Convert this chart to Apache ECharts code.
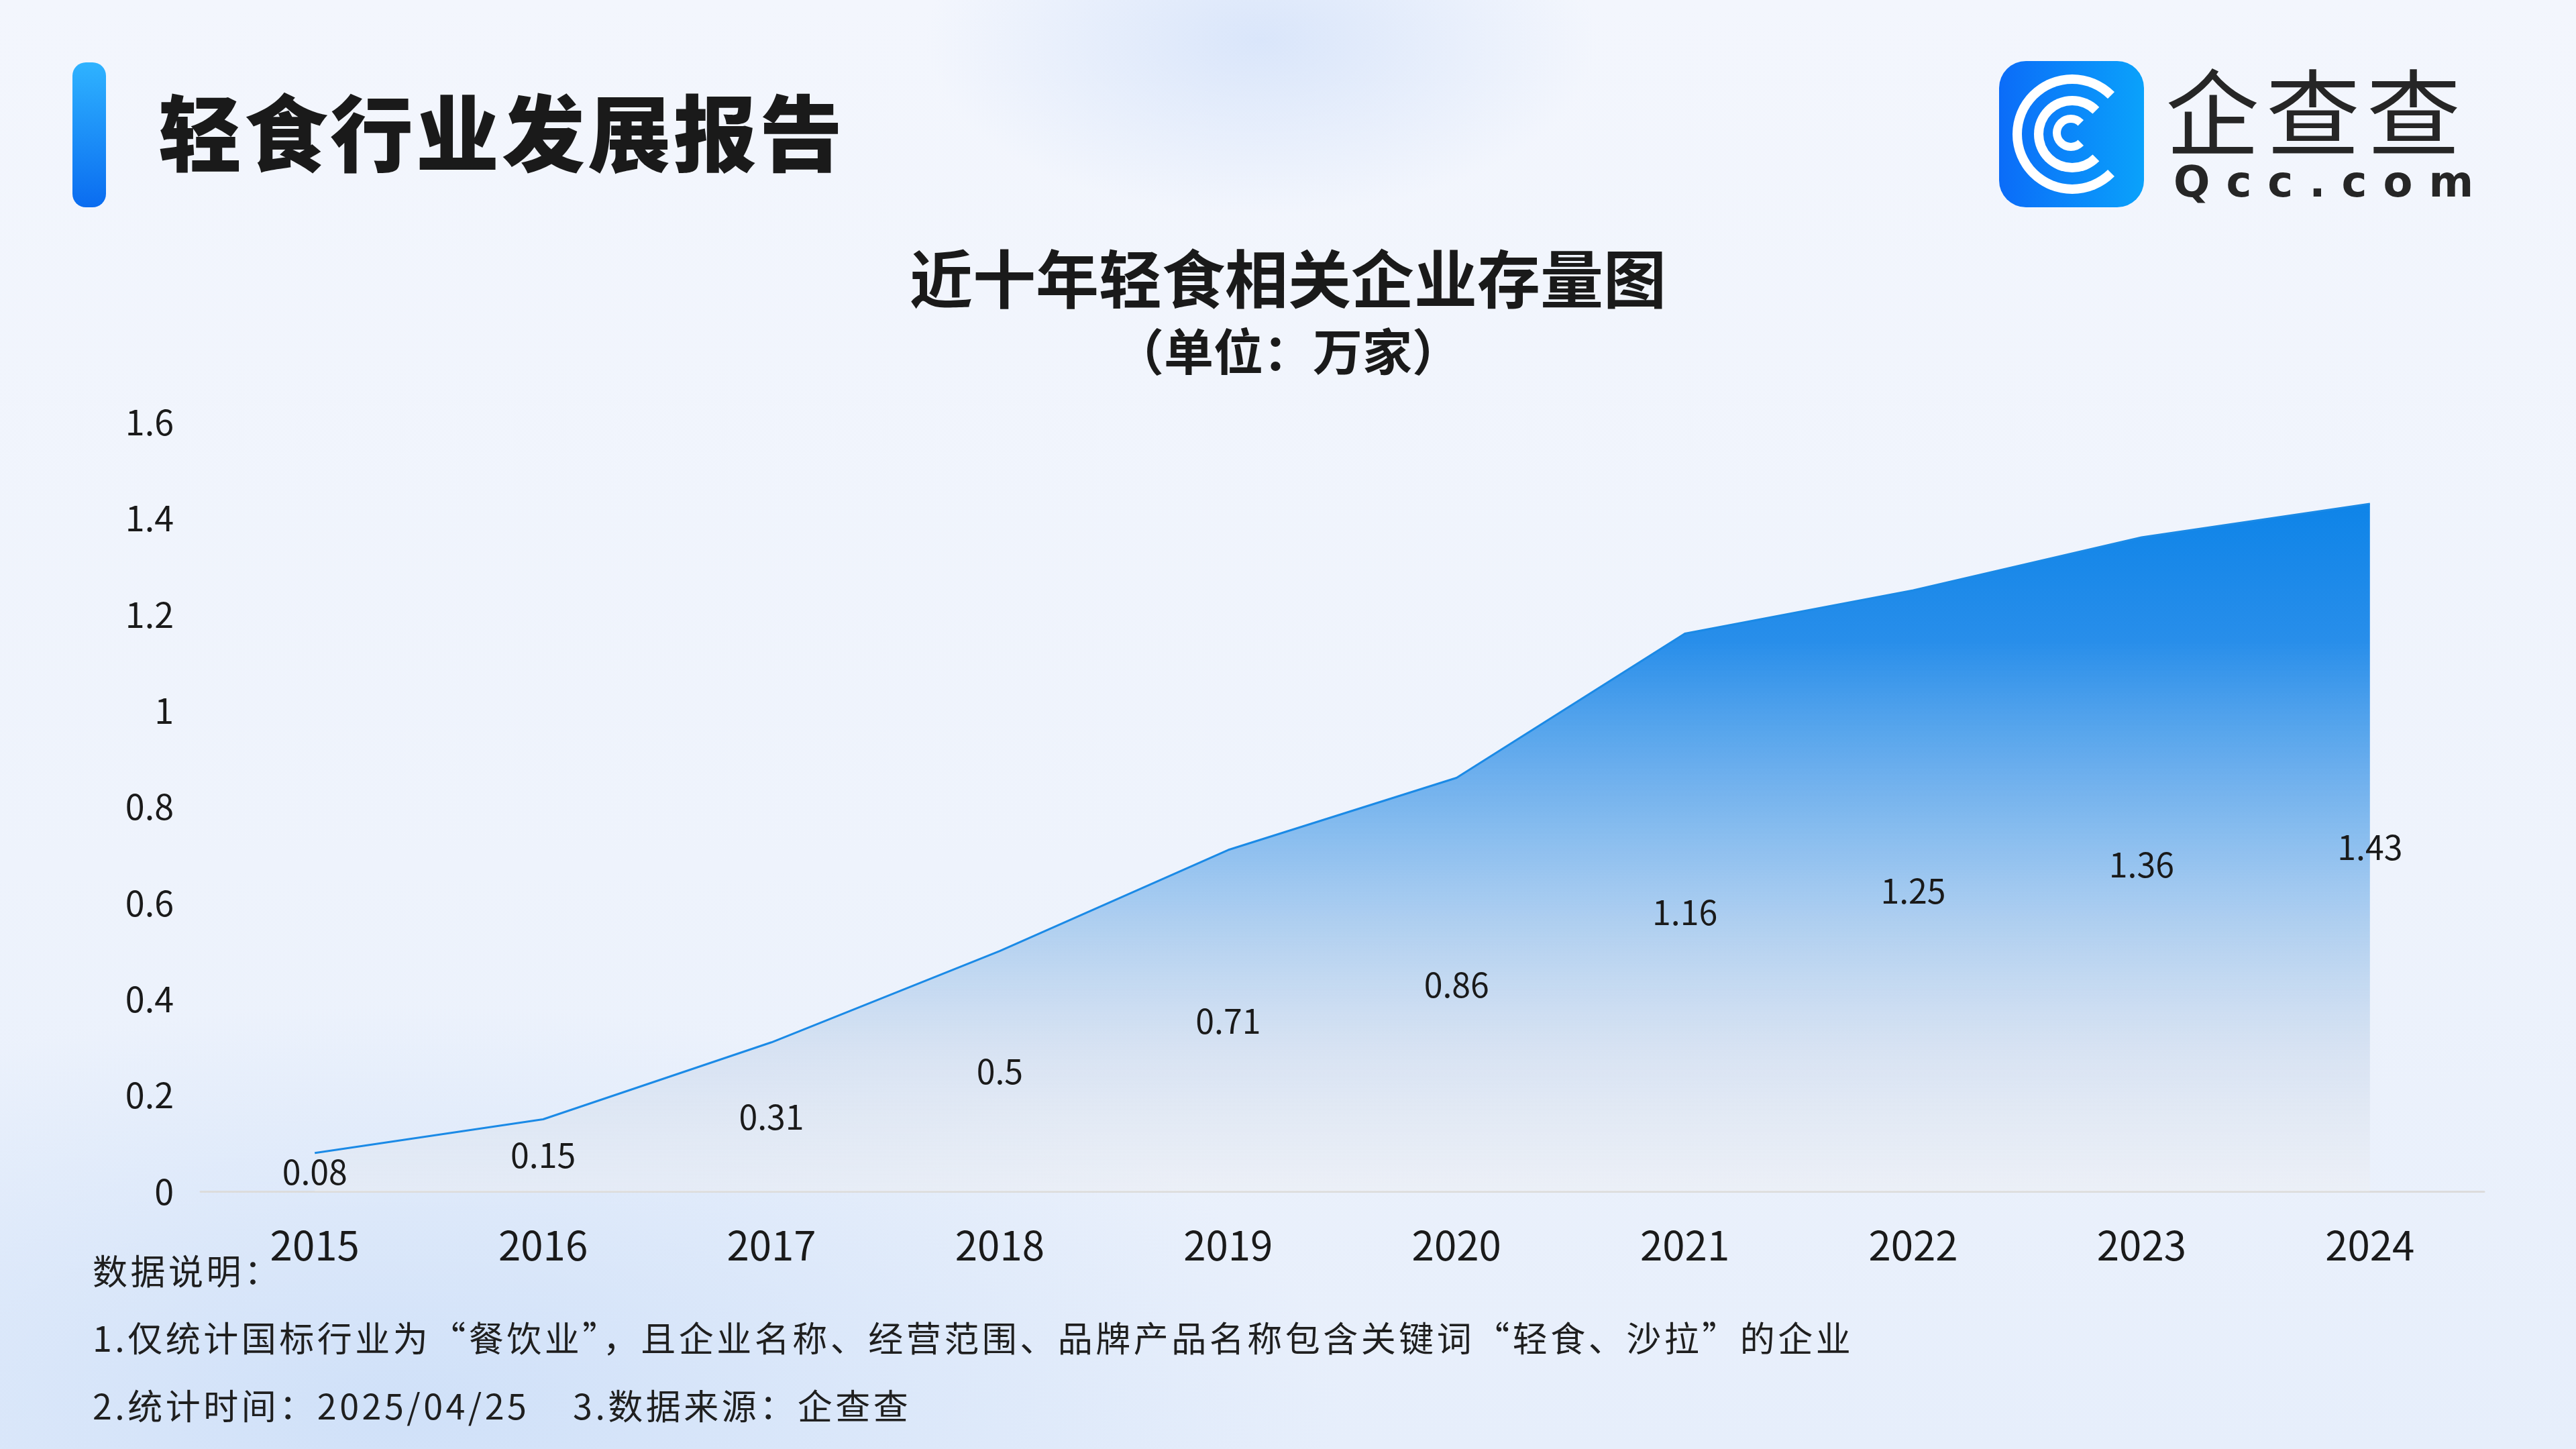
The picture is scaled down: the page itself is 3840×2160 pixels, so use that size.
<!DOCTYPE html>
<html lang="zh">
<head>
<meta charset="UTF-8" />
<title>轻食行业发展报告</title>
<script src="https://cdnjs.cloudflare.com/ajax/libs/echarts/6.0.0/echarts.min.js"></script>
<style>
  html, body { margin: 0; padding: 0; }
  body {
    width: 3840px; height: 2160px; overflow: hidden; position: relative;
    font-family: "Noto Sans CJK SC", sans-serif; color: #1a1a1a;
    background: radial-gradient(ellipse 500px 260px at 1880px 60px, rgba(215,228,250,0.9), rgba(215,228,250,0) 100%),
                radial-gradient(ellipse 1400px 600px at 600px 2100px, rgba(205,223,248,0.9), rgba(205,223,248,0) 100%),
                linear-gradient(180deg, #f3f6fd 0%, #eef3fc 60%, #e6eefb 100%);
  }
  #bar { position: absolute; left: 108px; top: 93px; width: 50px; height: 216px; border-radius: 20px;
         background: linear-gradient(180deg, #2fb3ff, #0a6cf0); }
  #head { position: absolute; left: 236px; top: 112px; font-size: 124px; font-weight: 900; line-height: 160px; letter-spacing: 4px; }
  #logo { position: absolute; left: 2980px; top: 91px; width: 216px; height: 218px; border-radius: 40px;
          background: linear-gradient(90deg, #0b6cf8, #0aa2fb); overflow: hidden; }
  .ring { position: absolute; border-radius: 50%; border: 14px solid #fff; border-right-color: transparent; }
  #logotxt { position: absolute; left: 3228px; top: 80px; font-size: 140px; line-height: 160px; color: #262626; letter-spacing: 10px; font-weight: 400; }
  #logosub { position: absolute; left: 3240px; top: 236px; font-size: 64px; line-height: 70px; color: #262626; letter-spacing: 24px; font-weight: bold; font-family: "DejaVu Sans", sans-serif; }
  #chart { position: absolute; left: 0; top: 0; width: 3840px; height: 2160px; }
  .note { position: absolute; left: 138px; font-size: 52px; line-height: 60px; color: #1f1f1f; letter-spacing: 4.5px; }
</style>
</head>
<body>
  <div id="bar"></div>
  <div id="head">轻食行业发展报告</div>
  <div id="logo">
    <div class="ring" style="left:20px;top:20px;width:150px;height:150px;"></div>
    <div class="ring" style="left:52px;top:52px;width:86px;height:86px;"></div>
    <div class="ring" style="left:80px;top:80px;width:30px;height:30px;border-width:12px;"></div>
  </div>
  <div id="logotxt">企查查</div>
  <div id="logosub">Qcc.com</div>
  <div id="chart"></div>
  <div class="note" style="top:1863px;">数据说明：</div>
  <div class="note" style="top:1963px;">1.仅统计国标行业为“餐饮业”，且企业名称、经营范围、品牌产品名称包含关键词“轻食、沙拉”的企业</div>
  <div class="note" style="top:2064px;">2.统计时间：2025/04/25&nbsp;&nbsp;&nbsp;&nbsp;3.数据来源：企查查</div>
<script>
  const years = ["2015", "2016", "2017", "2018", "2019", "2020", "2021", "2022", "2023", "2024"];
  const counts = [0.08, 0.15, 0.31, 0.5, 0.71, 0.86, 1.16, 1.25, 1.36, 1.43];
  const yTicks = [0, 0.2, 0.4, 0.6, 0.8, 1, 1.2, 1.4, 1.6];

  const chart = echarts.init(document.getElementById("chart"));
  chart.setOption({
    backgroundColor: "transparent",
    textStyle: { fontFamily: "Noto Sans CJK SC" },
    title: {
      text: "近十年轻食相关企业存量图",
      subtext: "（单位：万家）",
      left: "center",
      top: 364,
      itemGap: 24,
      textStyle: { fontSize: 94, fontWeight: "bold", color: "#1a1a1a" },
      subtextStyle: { fontSize: 74, fontWeight: "bold", color: "#1a1a1a" },
    },
    grid: { left: 299, right: 137, top: 629, bottom: 384 },
    xAxis: {
      type: "category",
      data: years,
      boundaryGap: true,
      axisLine: { lineStyle: { color: "#dcdcdc", width: 3 } },
      axisTick: { show: false },
      axisLabel: { fontSize: 60, color: "#1a1a1a", margin: 50 },
    },
    yAxis: {
      type: "value",
      min: 0, max: yTicks[yTicks.length - 1], interval: 0.2,
      axisLine: { show: false },
      axisTick: { show: false },
      splitLine: { show: false },
      axisLabel: { fontSize: 52, color: "#1a1a1a", margin: 40, formatter: (v) => String(+v.toFixed(1)) },
    },
    series: [
      {
        type: "line",
        data: counts,
        symbol: "none",
        lineStyle: { color: "#1b8ae6", width: 3 },
        areaStyle: {
          opacity: 1,
          color: new echarts.graphic.LinearGradient(0, 0, 0, 1, [
            { offset: 0, color: "rgba(14,132,232,1)" },
            { offset: 0.2, color: "rgba(40,142,234,1)" },
            { offset: 0.5, color: "rgba(125,182,236,0.85)" },
            { offset: 0.8, color: "rgba(200,215,235,0.55)" },
            { offset: 1, color: "rgba(238,238,240,0.4)" },
          ]),
        },
        z: 2,
      },
      {
        type: "bar",
        data: counts,
        barWidth: 2,
        itemStyle: { color: "transparent" },
        label: { show: true, position: "inside", fontSize: 50, color: "#1a1a1a" },
        z: 3,
      },
    ],
  });
</script>
</body>
</html>
